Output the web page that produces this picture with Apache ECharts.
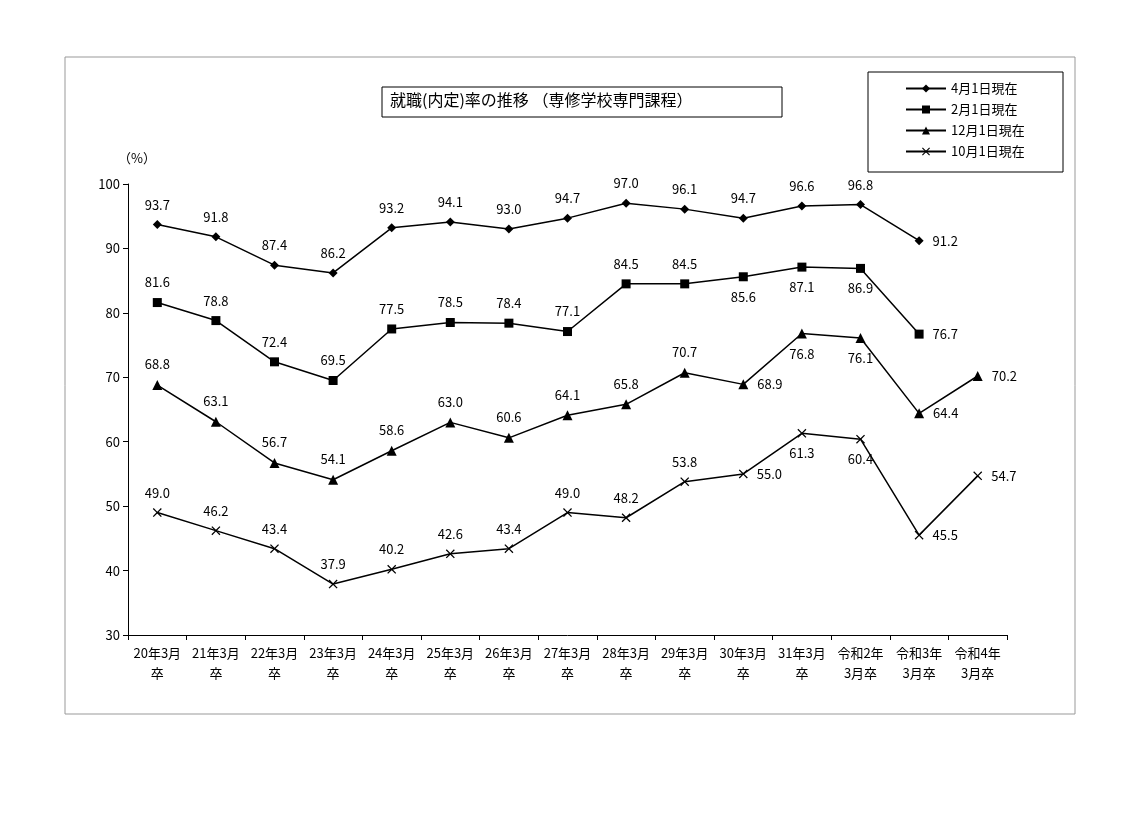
<!DOCTYPE html>
<html><head><meta charset="UTF-8">
<script src="https://cdn.jsdelivr.net/npm/echarts@6/dist/echarts.min.js"></script>
<style>body{margin:0;background:#fff}#g1{width:1142px;height:815px}</style>
</head><body>
<div id="g1"></div>
<script>
var categories = ['20年3月\n卒','21年3月\n卒','22年3月\n卒','23年3月\n卒','24年3月\n卒','25年3月\n卒','26年3月\n卒','27年3月\n卒','28年3月\n卒','29年3月\n卒','30年3月\n卒','31年3月\n卒','令和2年\n3月卒','令和3年\n3月卒','令和4年\n3月卒'];
var apr1 = [93.7,91.8,87.4,86.2,93.2,94.1,93.0,94.7,97.0,96.1,94.7,96.6,96.8,91.2,null];
var feb1 = [81.6,78.8,72.4,69.5,77.5,78.5,78.4,77.1,84.5,84.5,85.6,87.1,86.9,76.7,null];
var dec1 = [68.8,63.1,56.7,54.1,58.6,63.0,60.6,64.1,65.8,70.7,68.9,76.8,76.1,64.4,70.2];
var oct1 = [49.0,46.2,43.4,37.9,40.2,42.6,43.4,49.0,48.2,53.8,55.0,61.3,60.4,45.5,54.7];
var names = ['4月1日現在','2月1日現在','12月1日現在','10月1日現在'];

// label placement per point: t=top, b=bottom, r=right
var pos = [
  'tttttttttttttr',
  'ttttttttttbbbr',
  'ttttttttttrbbrr',
  'ttttttttttrbbrr'
];
var xSym = 'path://M0,1L1,0L5,4L9,0L10,1L6,5L10,9L9,10L5,6L1,10L0,9L4,5Z';
var symbols = ['diamond','rect','triangle',xSym];
var sizes = [9,9,10,9];
var font = '"Noto Sans CJK JP", sans-serif';

function build(vals, p) {
  var map = {t:'top', b:'bottom', r:'right'};
  return vals.map(function (v, i) {
    return {value: v, label: {position: map[p[i]] || 'top', distance: map[p[i]] == 'r' ? 12 : 9}};
  });
}

var series = [apr1, feb1, dec1, oct1].map(function (vals, k) {
  return {
    name: names[k], type: 'line', data: build(vals, pos[k]),
    symbol: symbols[k], symbolSize: sizes[k], showAllSymbol: true,
    lineStyle: {color: '#000', width: 1.5}, itemStyle: {color: '#000'},
    label: {show: true, color: '#000', fontSize: 13, fontFamily: font, formatter: function (d) { return d.value.toFixed(1); }}
  };
});

var option = {
  animation: false,
  graphic: [
    {type: 'rect', shape: {x: 65, y: 57, width: 1010, height: 657}, style: {fill: 'none', stroke: '#999', lineWidth: 1}},
    {type: 'rect', shape: {x: 382, y: 87, width: 400, height: 30}, style: {fill: '#fff', stroke: '#000', lineWidth: 1}},
    {type: 'text', left: 390, top: 92, style: {text: '就職(内定)率の推移 （専修学校専門課程）', font: '16px ' + font, fill: '#000'}},
    {type: 'rect', shape: {x: 868, y: 72, width: 195, height: 100}, style: {fill: '#fff', stroke: '#000', lineWidth: 1}},
    {type: 'text', left: 118, top: 152, style: {text: '（%）', font: '13px ' + font, fill: '#000'}}
  ],
  legend: {
    orient: 'vertical', left: 900, top: 77, itemGap: 8, itemWidth: 40, itemHeight: 10,
    data: names, textStyle: {fontSize: 13, fontFamily: font, color: '#000'}
  },
  grid: {left: 128, right: 135, top: 184, bottom: 180},
  xAxis: {
    type: 'category', data: categories, boundaryGap: true,
    axisLine: {lineStyle: {color: '#000'}}, axisTick: {show: true, lineStyle: {color: '#000'}},
    axisLabel: {interval: 0, color: '#000', fontSize: 13, fontFamily: font, lineHeight: 20}
  },
  yAxis: {
    type: 'value', min: 30, max: 100, interval: 10,
    axisLine: {show: true, lineStyle: {color: '#000'}}, axisTick: {show: true, inside: false, lineStyle: {color: '#000'}},
    splitLine: {show: false},
    axisLabel: {color: '#000', fontSize: 13, fontFamily: font}
  },
  series: series
};
echarts.init(document.getElementById('g1')).setOption(option);
</script>
</body></html>
